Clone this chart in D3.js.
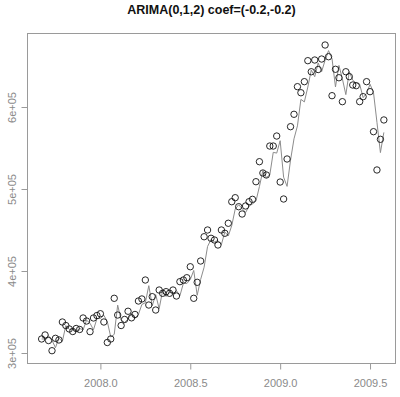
<!DOCTYPE html>
<html><head><meta charset="utf-8">
<script src="https://cdn.jsdelivr.net/npm/d3@7"></script>
<style>body{margin:0;background:#fff}svg{display:block}</style>
</head><body>
<svg id="c" width="400" height="397"></svg>
<script>
// Weekly series: start week 36 of 2007 (frequency 52)
const startYear = 2007, startWeek = 35, freq = 52;
const observed = [317100,322000,315200,302800,317900,315900,337800,333500,329300,326200,
329900,328700,342700,339000,326000,342700,345700,347900,337800,312800,
317100,366700,346300,333500,340900,350900,342900,347000,363400,365900,
389000,358500,368700,352400,376800,372800,374800,372800,376800,369500,
387000,389000,391800,405200,366700,386200,412200,441800,450000,439900,
437800,431700,450000,446000,458200,484500,489400,478400,469500,479300,
484500,487400,508900,533300,519500,517100,552400,552400,564600,508500,
487800,536600,576000,591100,624800,617400,630900,656500,643000,657300,
645700,658500,675600,661300,613800,646000,635700,606500,643000,637000,
626800,626000,606500,612600,630900,618700,569900,523200,560600,584200];
const fitted = [317100,317100,321000,315400,306500,318100,314100,333500,328800,329200,
326700,329900,328300,340100,336300,328300,341900,342100,346000,338300,
319500,322700,358400,339900,337200,341400,348300,342100,347100,359200,
361300,382100,357700,371200,354000,376000,368900,374300,371900,376100,
369800,384900,384700,389600,400700,370400,389800,404600,429900,438500,
435600,437100,432300,447500,442800,455400,475600,480800,476100,471300,
479000,481800,485200,503000,522500,514000,517100,544700,543800,558900,
514400,503200,535200,561200,577000,609300,606200,624300,645100,637000,
653700,643200,657000,668800,659100,624400,650700,634400,615100,643000,
632600,629200,627800,611400,616600,627800,617700,581300,544400,569000];
const xTicks = [2008.0, 2008.5, 2009.0, 2009.5];
const xTickLabels = ["2008.0", "2008.5", "2009.0", "2009.5"];
const yTicks = [300000, 400000, 500000, 600000];
const yTickLabels = ["3e+05", "4e+05", "5e+05", "6e+05"];
const title = "ARIMA(0,1,2) coef=(-0.2,-0.2)";

const times = observed.map((d, i) => startYear + (startWeek + i) / freq);

const L = 27, R = 396, T = 33, B = 363;
const x = d3.scaleLinear().domain([2007.5917, 2009.6444]).range([L, R]);
const y = d3.scaleLinear().domain([287805, 690244]).range([B, T]);

const svg = d3.select("#c");
const font = "'Liberation Sans', Arial, Helvetica, sans-serif";
const axisCol = "#9a9a9a", labCol = "#8a8a8a";

// title
svg.append("text").attr("x", (L + R) / 2).attr("y", 14)
  .attr("text-anchor", "middle").attr("font-family", font)
  .attr("font-size", 12.5).attr("font-weight", "bold").attr("fill", "#111")
  .text(title);

// box
svg.append("rect").attr("x", L + 0.5).attr("y", T + 0.5)
  .attr("width", R - L - 1).attr("height", B - T)
  .attr("fill", "none").attr("stroke", axisCol).attr("stroke-width", 1);

// x axis
const xAxis = d3.axisBottom(x).tickValues(xTicks).tickSize(6).tickPadding(10)
  .tickFormat((d, i) => xTickLabels[i]);
const gx = svg.append("g").attr("transform", `translate(0,${B + 0.5})`).call(xAxis);
gx.select(".domain").remove();
gx.selectAll("line").attr("stroke", axisCol);
gx.selectAll("text").attr("fill", labCol).attr("font-family", font).attr("font-size", 11);

// y axis
const yAxis = d3.axisLeft(y).tickValues(yTicks).tickSize(6).tickPadding(0)
  .tickFormat((d, i) => yTickLabels[i]);
const gy = svg.append("g").attr("transform", `translate(${L + 0.5},0)`).call(yAxis);
gy.select(".domain").remove();
gy.selectAll("line").attr("stroke", axisCol);
gy.selectAll("text").attr("fill", labCol).attr("font-family", font).attr("font-size", 11)
  .attr("text-anchor", "middle").attr("dy", null)
  .attr("x", null)
  .attr("transform", "translate(-12,0) rotate(-90)")
  .attr("y", 0);

// fitted line
const line = d3.line().x((d, i) => x(times[i])).y(d => y(d));
svg.append("path").datum(fitted).attr("d", line)
  .attr("fill", "none").attr("stroke", "#8c8c8c").attr("stroke-width", 1);

// points
svg.append("g").selectAll("circle").data(observed).join("circle")
  .attr("cx", (d, i) => x(times[i])).attr("cy", d => y(d)).attr("r", 3.2)
  .attr("fill", "none").attr("stroke", "#111").attr("stroke-width", 0.9);
</script>
</body></html>
